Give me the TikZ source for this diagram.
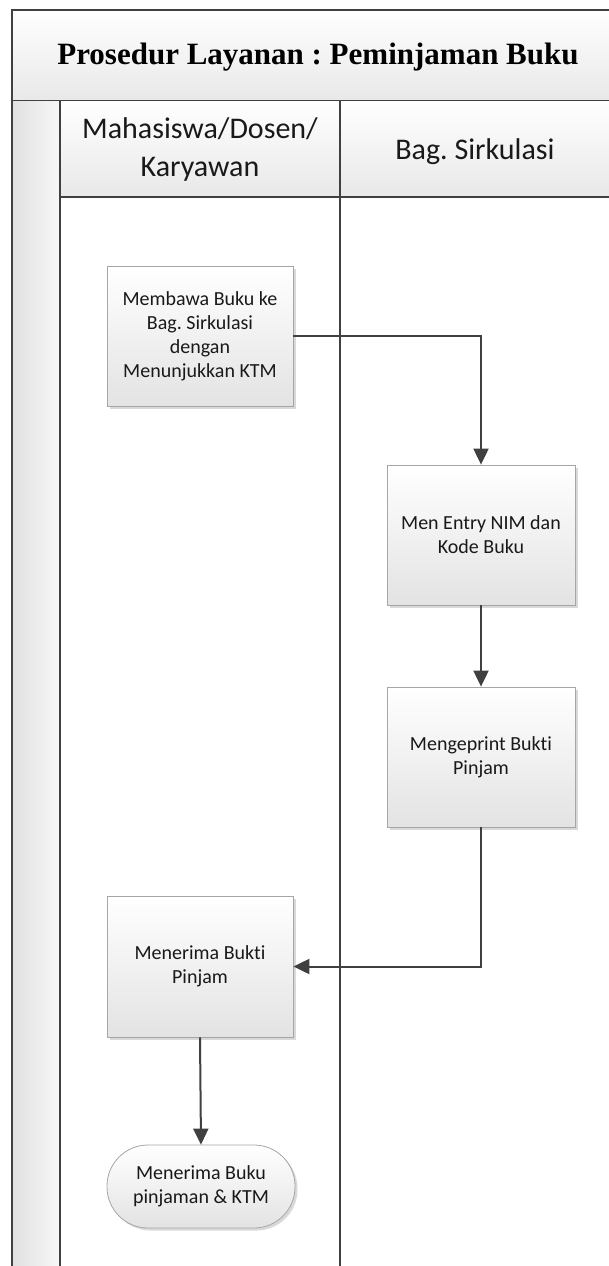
\documentclass[tikz,border=0pt]{standalone}
\usepackage{fontspec}
\setmainfont{Liberation Serif}
\newfontfamily\calib[Ligatures=NoCommon]{Carlito}
\usetikzlibrary{arrows.meta,shadows,positioning}
\definecolor{lineC}{HTML}{404040}
\definecolor{boxB}{HTML}{A6A6A6}
\tikzset{
  frame/.style={draw=lineC, line width=1.6pt},
  proc/.style={draw=boxB, line width=0.8pt, minimum width=186pt, minimum height=140pt,
    top color=white, bottom color=black!11, align=center, inner sep=2pt,
    font=\calib\fontsize{20}{24}\selectfont, text=black!90,
    drop shadow={shadow xshift=2.5pt, shadow yshift=-2.5pt, fill=black!25, opacity=0.6}},
  term/.style={proc, rounded corners=41pt, minimum height=83pt, minimum width=188pt},
  flow/.style={draw=lineC, line width=2pt, -{Triangle[width=15pt,length=16pt]}},
  hdr/.style={font=\calib\fontsize{30}{38}\selectfont, align=center, text=black!90}
}
\frenchspacing
\begin{document}
\begin{tikzpicture}[x=1pt,y=-1pt]
\useasboundingbox (0,0) rectangle (609,1266);
\begin{scope}
\clip (0,0) rectangle (609,1266);
% title row
\shade[top color=white, bottom color=black!9] (12,10) rectangle (640,101);
\draw[frame] (12,1300) -- (12,10) -- (640,10);
\draw[frame] (12,101) -- (640,101);
% strip
\shade[left color=black!12, right color=black!3] (12,101) rectangle (60,1300);
% header cells
\shade[top color=white, bottom color=black!9] (60,101) rectangle (640,197);
\draw[frame] (60,101) -- (60,1300);
\draw[frame] (340,101) -- (340,1300);
\draw[frame] (60,197) -- (640,197);
\draw[frame] (12,10) -- (12,1300);
\end{scope}
\node[font=\bfseries\fontsize{31}{36}\selectfont] (title) at (318,57) {Prosedur Layanan : Peminjaman Buku};
\node[hdr] (h1) at (200,149) {Mahasiswa/Dosen/\\Karyawan};
\node[hdr] (h2) at (475,152) {Bag. Sirkulasi};
% process nodes
\node[proc] (b1) at (200,336) {Membawa Buku ke\\Bag. Sirkulasi\\dengan\\Menunjukkan KTM};
\node[proc, minimum width=188pt] (b2) at (481,535) {Men Entry NIM dan\\Kode Buku};
\node[proc, minimum width=188pt] (b3) at (481,757) {Mengeprint Bukti\\Pinjam};
\node[proc, minimum height=141pt] (b4) at (200,966.5) {Menerima Bukti\\Pinjam};
\node[term] (t1) at (201,1186.5) {Menerima Buku\\pinjaman \& KTM};
% connectors
\draw[flow] (b1.east) -| (b2.north);
\draw[flow] (b2.south) -- (b3.north);
\draw[flow] (b3.south) |- (b4.east);
\draw[flow] (b4.south) -- (t1.north);
\end{tikzpicture}
\end{document}
